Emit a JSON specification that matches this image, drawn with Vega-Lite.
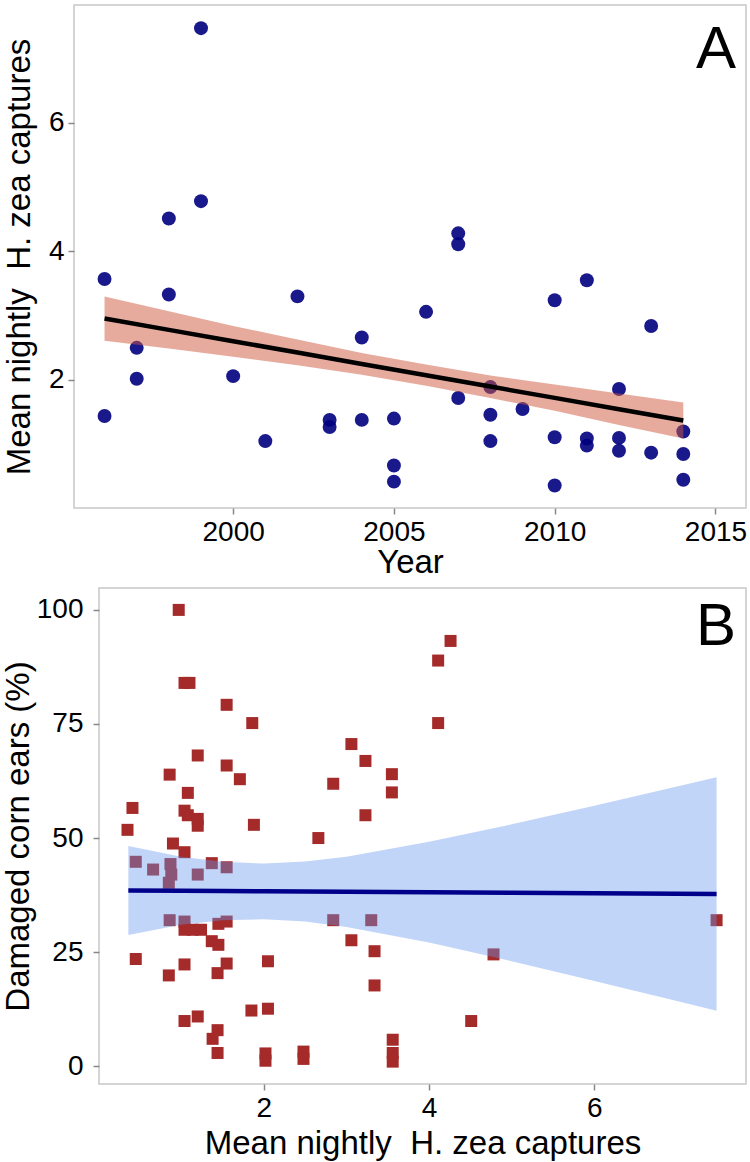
{
  "$schema": "https://vega.github.io/schema/vega-lite/v6.json",
  "background": "white",
  "padding": {"left": 1, "top": 4, "right": 4, "bottom": 0},
  "config": {
    "view": {"stroke": "#C8C8C8", "strokeWidth": 1.5},
    "font": "Liberation Sans",
    "axis": {
      "domain": false, "grid": false,
      "tickColor": "#888888", "tickSize": 6, "tickWidth": 1.5,
      "labelFontSize": 28, "labelColor": "black", "labelFont": "Liberation Sans", "labelPadding": 4,
      "titleFontSize": 33, "titleFontWeight": "normal", "titleColor": "black", "titleFont": "Liberation Sans"
    }
  },
  "datasets": {
    "yearly": [
      {"year": 1996, "captures": 3.57}, {"year": 1996, "captures": 1.44},
      {"year": 1997, "captures": 2.50}, {"year": 1997, "captures": 2.02},
      {"year": 1998, "captures": 4.51}, {"year": 1998, "captures": 3.33},
      {"year": 1999, "captures": 7.47}, {"year": 1999, "captures": 4.78},
      {"year": 2000, "captures": 2.06}, {"year": 2001, "captures": 1.05},
      {"year": 2002, "captures": 3.30},
      {"year": 2003, "captures": 1.38}, {"year": 2003, "captures": 1.27},
      {"year": 2004, "captures": 2.66}, {"year": 2004, "captures": 1.38},
      {"year": 2005, "captures": 1.40}, {"year": 2005, "captures": 0.67}, {"year": 2005, "captures": 0.42},
      {"year": 2006, "captures": 3.06},
      {"year": 2007, "captures": 4.28}, {"year": 2007, "captures": 4.11}, {"year": 2007, "captures": 1.72},
      {"year": 2008, "captures": 1.89}, {"year": 2008, "captures": 1.46}, {"year": 2008, "captures": 1.05},
      {"year": 2009, "captures": 1.55},
      {"year": 2010, "captures": 3.24}, {"year": 2010, "captures": 1.11}, {"year": 2010, "captures": 0.36},
      {"year": 2011, "captures": 3.55}, {"year": 2011, "captures": 1.09}, {"year": 2011, "captures": 0.98},
      {"year": 2012, "captures": 1.86}, {"year": 2012, "captures": 1.10}, {"year": 2012, "captures": 0.90},
      {"year": 2013, "captures": 2.84}, {"year": 2013, "captures": 0.87},
      {"year": 2014, "captures": 1.20}, {"year": 2014, "captures": 0.85}, {"year": 2014, "captures": 0.45}
    ],
    "fitA": [
      {"year": 1996, "fit": 2.955, "lo": 2.61, "hi": 3.30},
      {"year": 1998, "fit": 2.779, "lo": 2.49, "hi": 3.07},
      {"year": 2000, "fit": 2.603, "lo": 2.36, "hi": 2.84},
      {"year": 2002, "fit": 2.427, "lo": 2.23, "hi": 2.63},
      {"year": 2004, "fit": 2.250, "lo": 2.08, "hi": 2.42},
      {"year": 2006, "fit": 2.074, "lo": 1.91, "hi": 2.24},
      {"year": 2008, "fit": 1.898, "lo": 1.72, "hi": 2.07},
      {"year": 2010, "fit": 1.722, "lo": 1.52, "hi": 1.93},
      {"year": 2012, "fit": 1.546, "lo": 1.30, "hi": 1.79},
      {"year": 2014, "fit": 1.370, "lo": 1.09, "hi": 1.65}
    ],
    "damage": [
      {"captures": 0.97, "damaged": 100}, {"captures": 1.04, "damaged": 84}, {"captures": 1.10, "damaged": 84},
      {"captures": 1.55, "damaged": 79.2}, {"captures": 1.86, "damaged": 75.2}, {"captures": 1.20, "damaged": 68.1},
      {"captures": 1.55, "damaged": 65.9}, {"captures": 0.86, "damaged": 63.9}, {"captures": 1.71, "damaged": 62.9},
      {"captures": 1.08, "damaged": 59.9}, {"captures": 0.41, "damaged": 56.6}, {"captures": 1.04, "damaged": 56.0},
      {"captures": 1.08, "damaged": 55.0}, {"captures": 1.20, "damaged": 54.2}, {"captures": 1.20, "damaged": 52.7},
      {"captures": 1.88, "damaged": 52.9}, {"captures": 0.35, "damaged": 51.8}, {"captures": 0.90, "damaged": 48.8},
      {"captures": 1.04, "damaged": 46.9}, {"captures": 0.45, "damaged": 44.8}, {"captures": 0.66, "damaged": 43.1},
      {"captures": 0.87, "damaged": 44.3}, {"captures": 0.88, "damaged": 42.0}, {"captures": 0.85, "damaged": 40.2},
      {"captures": 1.20, "damaged": 42.0}, {"captures": 1.37, "damaged": 44.5}, {"captures": 1.55, "damaged": 43.6},
      {"captures": 0.86, "damaged": 32.0}, {"captures": 1.04, "damaged": 31.7}, {"captures": 1.04, "damaged": 29.9},
      {"captures": 1.14, "damaged": 29.9}, {"captures": 1.24, "damaged": 29.9}, {"captures": 1.45, "damaged": 31.2},
      {"captures": 1.55, "damaged": 31.7}, {"captures": 1.37, "damaged": 27.4}, {"captures": 1.45, "damaged": 26.6},
      {"captures": 0.45, "damaged": 23.5}, {"captures": 2.05, "damaged": 23.0}, {"captures": 1.04, "damaged": 22.3},
      {"captures": 1.55, "damaged": 22.5}, {"captures": 1.44, "damaged": 20.4}, {"captures": 0.85, "damaged": 19.9},
      {"captures": 1.85, "damaged": 12.2}, {"captures": 2.05, "damaged": 12.6}, {"captures": 1.04, "damaged": 9.9},
      {"captures": 1.20, "damaged": 10.9}, {"captures": 1.44, "damaged": 7.9}, {"captures": 1.38, "damaged": 6.0},
      {"captures": 1.44, "damaged": 2.9}, {"captures": 2.02, "damaged": 2.8}, {"captures": 2.02, "damaged": 1.2},
      {"captures": 2.48, "damaged": 3.2}, {"captures": 2.48, "damaged": 1.6},
      {"captures": 4.26, "damaged": 93.2}, {"captures": 4.11, "damaged": 88.9}, {"captures": 4.11, "damaged": 75.2},
      {"captures": 3.06, "damaged": 70.6}, {"captures": 3.23, "damaged": 66.9}, {"captures": 3.55, "damaged": 64.0},
      {"captures": 3.55, "damaged": 60.0}, {"captures": 2.84, "damaged": 61.9}, {"captures": 3.23, "damaged": 55.0},
      {"captures": 2.66, "damaged": 50.0}, {"captures": 2.84, "damaged": 32.0}, {"captures": 3.30, "damaged": 32.0},
      {"captures": 3.06, "damaged": 27.6}, {"captures": 3.34, "damaged": 25.2}, {"captures": 3.34, "damaged": 17.7},
      {"captures": 4.78, "damaged": 24.5}, {"captures": 4.51, "damaged": 9.9}, {"captures": 3.56, "damaged": 5.8},
      {"captures": 3.56, "damaged": 2.9}, {"captures": 3.56, "damaged": 1.0}, {"captures": 7.48, "damaged": 32.0}
    ],
    "fitB": [
      {"captures": 0.36, "fit": 38.50, "lo": 28.75, "hi": 48.25},
      {"captures": 1.0, "fit": 38.44, "lo": 31.0, "hi": 45.9},
      {"captures": 1.5, "fit": 38.38, "lo": 32.0, "hi": 44.8},
      {"captures": 2.0, "fit": 38.33, "lo": 32.2, "hi": 44.4},
      {"captures": 2.5, "fit": 38.28, "lo": 31.7, "hi": 44.85},
      {"captures": 3.0, "fit": 38.23, "lo": 30.5, "hi": 45.9},
      {"captures": 4.0, "fit": 38.12, "lo": 27.1, "hi": 49.2},
      {"captures": 5.0, "fit": 38.02, "lo": 23.0, "hi": 53.0},
      {"captures": 6.0, "fit": 37.91, "lo": 18.7, "hi": 57.1},
      {"captures": 7.0, "fit": 37.81, "lo": 14.3, "hi": 61.3},
      {"captures": 7.48, "fit": 37.75, "lo": 12.15, "hi": 63.35}
    ]
  },
  "spacing": 7,
  "vconcat": [
    {
      "width": 672,
      "height": 503,
      "layer": [
        {
          "data": {"name": "yearly"},
          "mark": {"type": "circle", "size": 195, "color": "#000080", "opacity": 0.9},
          "encoding": {
            "x": {"field": "year", "type": "quantitative", "scale": {"domain": [1995.05, 2015.95], "nice": false, "zero": false},
                  "axis": {"values": [2000, 2005, 2010, 2015], "format": "d", "title": "Year", "labelPadding": 4, "titlePadding": 0}},
            "y": {"field": "captures", "type": "quantitative", "scale": {"domain": [0.01, 7.83], "nice": false, "zero": false},
                  "axis": {"values": [2, 4, 6], "format": "d", "title": "Mean nightly\u00a0 H. zea captures", "labelPadding": 4, "titlePadding": 12}}
          }
        },
        {
          "data": {"name": "fitA"},
          "mark": {"type": "area", "color": "#D0583E", "opacity": 0.5},
          "encoding": {
            "x": {"field": "year", "type": "quantitative", "title": "Year"},
            "y": {"field": "lo", "type": "quantitative", "title": "Mean nightly\u00a0 H. zea captures"},
            "y2": {"field": "hi"}
          }
        },
        {
          "data": {"name": "fitA"},
          "mark": {"type": "line", "color": "black", "strokeWidth": 4.5},
          "encoding": {
            "x": {"field": "year", "type": "quantitative", "title": "Year"},
            "y": {"field": "fit", "type": "quantitative", "title": "Mean nightly\u00a0 H. zea captures"}
          }
        },
        {
          "data": {"values": [{"label": "A"}]},
          "mark": {"type": "text", "fontSize": 60, "align": "right", "baseline": "alphabetic", "font": "Liberation Sans", "color": "black"},
          "encoding": {
            "text": {"field": "label"},
            "x": {"datum": 2015.64},
            "y": {"datum": 6.85}
          }
        }
      ]
    },
    {
      "bounds": "flush",
      "spacing": 12,
      "hconcat": [
        {
          "width": 13,
          "height": 496,
          "view": {"stroke": null},
          "data": {"values": []},
          "mark": "point"
        },
        {
          "width": 647,
          "height": 496,
          "layer": [
            {
              "data": {"name": "damage"},
              "mark": {"type": "square", "size": 144, "color": "#A52A2A", "opacity": 1},
              "encoding": {
                "x": {"field": "captures", "type": "quantitative", "scale": {"domain": [0.005, 7.836], "nice": false, "zero": false},
                      "axis": {"values": [2, 4, 6], "format": "d", "title": "Mean nightly\u00a0 H. zea captures", "labelPadding": 4, "titlePadding": 5}},
                "y": {"field": "damaged", "type": "quantitative", "scale": {"domain": [-3.9, 104.8], "nice": false, "zero": false},
                      "axis": {"values": [0, 25, 50, 75, 100], "format": "d", "title": "Damaged corn ears (%)", "labelPadding": 10, "titlePadding": 1}}
              }
            },
            {
              "data": {"name": "fitB"},
              "mark": {"type": "area", "color": "#6495ED", "opacity": 0.4},
              "encoding": {
                "x": {"field": "captures", "type": "quantitative", "title": "Mean nightly\u00a0 H. zea captures"},
                "y": {"field": "lo", "type": "quantitative", "title": "Damaged corn ears (%)"},
                "y2": {"field": "hi"}
              }
            },
            {
              "data": {"name": "fitB"},
              "mark": {"type": "line", "color": "#00008B", "strokeWidth": 4.5},
              "encoding": {
                "x": {"field": "captures", "type": "quantitative", "title": "Mean nightly\u00a0 H. zea captures"},
                "y": {"field": "fit", "type": "quantitative", "title": "Damaged corn ears (%)"}
              }
            },
            {
              "data": {"values": [{"label": "B"}]},
              "mark": {"type": "text", "fontSize": 60, "align": "right", "baseline": "alphabetic", "font": "Liberation Sans", "color": "black"},
              "encoding": {
                "text": {"field": "label"},
                "x": {"datum": 7.715},
                "y": {"datum": 92.3}
              }
            }
          ]
        }
      ]
    }
  ]
}
